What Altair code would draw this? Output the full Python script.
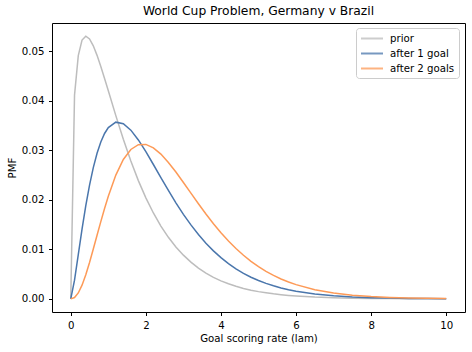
import altair as alt
import pandas as pd

lam = [0, 0.1, 0.2, 0.3, 0.4, 0.5, 0.6, 0.7, 0.8, 0.9, 1.0,
       1.2, 1.4, 1.6, 1.8, 2.0, 2.2, 2.4, 2.6, 2.8, 3.0,
       3.2, 3.4, 3.6, 3.8, 4.0, 4.2, 4.4, 4.6, 4.8, 5.0,
       5.2, 5.4, 5.6, 5.8, 6.0, 6.5, 7.0, 7.5, 8.0, 8.5, 9.0, 9.5, 10.0]

prior = [0, 0.04110, 0.04907, 0.05222, 0.05301, 0.05245, 0.05105, 0.04913, 0.04689, 0.04447, 0.04198,
         0.03697, 0.03219, 0.02780, 0.02386, 0.02038, 0.01733, 0.01469, 0.01242, 0.01047, 0.00882,
         0.00741, 0.00621, 0.00520, 0.00435, 0.00364, 0.00304, 0.00253, 0.00211, 0.00176, 0.00146,
         0.00122, 0.00101, 0.00084, 0.00070, 0.00058, 0.00036, 0.00023, 0.00014, 0.000088, 0.000055,
         0.000034, 0.000021, 0.000013]

after1 = [0, 0.00378, 0.00891, 0.01405, 0.01879, 0.02296, 0.02648, 0.02938, 0.03165, 0.03337, 0.03456,
          0.03565, 0.03534, 0.03404, 0.03207, 0.02970, 0.02711, 0.02447, 0.02187, 0.01938, 0.01706,
          0.01492, 0.01297, 0.01123, 0.00968, 0.00831, 0.00711, 0.00606, 0.00515, 0.00437, 0.00370,
          0.00312, 0.00263, 0.00221, 0.00185, 0.00155, 0.00099, 0.00063, 0.00039, 0.00025, 0.00015,
          0.000095, 0.000058, 0.000036]

after2 = [0, 0.00026, 0.00119, 0.00277, 0.00488, 0.00735, 0.01005, 0.01283, 0.01559, 0.01824, 0.02072,
          0.02497, 0.02812, 0.03014, 0.03110, 0.03116, 0.03047, 0.02921, 0.02753, 0.02559, 0.02349,
          0.02134, 0.01920, 0.01713, 0.01517, 0.01335, 0.01168, 0.01016, 0.00879, 0.00757, 0.00650,
          0.00555, 0.00473, 0.00402, 0.00340, 0.00287, 0.00186, 0.00118, 0.00075, 0.00046, 0.00029,
          0.00018, 0.00011, 0.000064]

series_names = ["prior", "after 1 goal", "after 2 goals"]
series_colors = ["#bdbdbd", "#4a76ac", "#fd9a57"]

rows = []
for name, vals in zip(series_names, [prior, after1, after2]):
    for i, (x, y) in enumerate(zip(lam, vals)):
        rows.append({"lam": x, "pmf": y, "series": name, "idx": i})
df = pd.DataFrame(rows)

FONT = "DejaVu Sans"
axis_style = dict(grid=False, domain=False, tickColor="black", tickSize=3.5, tickWidth=1,
                  labelFont=FONT, labelFontSize=10.2, labelColor="black", labelPadding=4.5,
                  titleFont=FONT, titleFontSize=10.2, titleFontWeight="normal",
                  titleColor="black")

chart = alt.Chart(df).mark_line(strokeWidth=1.5).encode(
    x=alt.X("lam:Q",
            scale=alt.Scale(domain=[-0.5, 10.5], nice=False, zero=False),
            axis=alt.Axis(values=[0, 2, 4, 6, 8, 10], format="d",
                          title="Goal scoring rate (lam)", titlePadding=3, **axis_style)),
    y=alt.Y("pmf:Q",
            scale=alt.Scale(domain=[-0.00265, 0.05566], nice=False, zero=False),
            axis=alt.Axis(values=[0, 0.01, 0.02, 0.03, 0.04, 0.05], format=".2f",
                          title="PMF", titlePadding=4, **axis_style)),
    color=alt.Color("series:N",
                    scale=alt.Scale(domain=series_names, range=series_colors),
                    legend=alt.Legend(title=None, orient="none", legendX=304, legendY=5,
                                      symbolType="M-1,0L3,0", symbolSize=121, symbolStrokeWidth=2,
                                      symbolOpacity=0.75,
                                      labelFontSize=10.2, labelFont=FONT, labelColor="black",
                                      labelOffset=17, padding=4, rowPadding=3,
                                      strokeColor="#cccccc", cornerRadius=3,
                                      fillColor="white")),
    order=alt.Order("idx:Q"),
).properties(
    width=413, height=289,
    background="white",
    title=alt.TitleParams("World Cup Problem, Germany v Brazil", fontSize=12.3,
                          font=FONT, fontWeight="normal", color="black",
                          anchor="middle", offset=6),
    autosize=alt.AutoSizeParams(type="none"),
    padding={"left": 52, "top": 23, "right": 7, "bottom": 40},
).configure_view(
    stroke="black", strokeWidth=1
)

chart.save("out.html", embed_options={"renderer": "svg", "actions": False})
